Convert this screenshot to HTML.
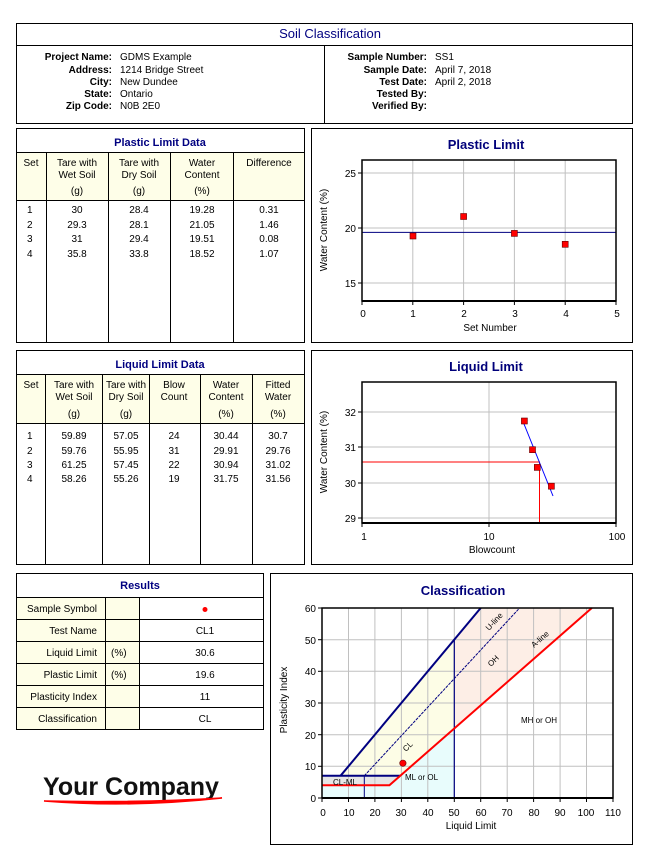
<!DOCTYPE html>
<html><head><meta charset="utf-8"><style>
html,body{margin:0;padding:0;background:#fff;}
svg{display:block;}
text{font-family:"Liberation Sans","DejaVu Sans",sans-serif;font-size:10px;fill:#000;}
.b{font-weight:bold;}
.t{font-weight:bold;fill:#000080;font-size:11px;}
.ct{font-weight:bold;fill:#00007a;font-size:13px;}
.ax{font-size:11px;}
.g{stroke:#c0c0c0;stroke-width:1;}
</style></head><body>
<svg width="659" height="865" viewBox="0 0 659 865" xmlns="http://www.w3.org/2000/svg">
<rect width="659" height="865" fill="#fff"/>
<!-- Header -->
<rect x="16.5" y="23.5" width="616" height="100" fill="none" stroke="#000"/>
<text x="330" y="38" text-anchor="middle" class="t" style="font-size:13px;font-weight:normal">Soil Classification</text>
<line x1="16" y1="45.5" x2="633" y2="45.5" stroke="#000"/>
<line x1="324.5" y1="45" x2="324.5" y2="124" stroke="#000"/>
<g text-anchor="end" class="b">
<text x="112" y="60">Project Name:</text><text x="112" y="73">Address:</text><text x="112" y="85">City:</text><text x="112" y="97">State:</text><text x="112" y="109">Zip Code:</text>
<text x="427" y="60">Sample Number:</text><text x="427" y="73">Sample Date:</text><text x="427" y="85">Test Date:</text><text x="427" y="97">Tested By:</text><text x="427" y="109">Verified By:</text>
</g>
<text x="120" y="60">GDMS Example</text><text x="120" y="73">1214 Bridge Street</text><text x="120" y="85">New Dundee</text><text x="120" y="97">Ontario</text><text x="120" y="109">N0B 2E0</text>
<text x="435" y="60">SS1</text><text x="435" y="73">April 7, 2018</text><text x="435" y="85">April 2, 2018</text>

<!-- Plastic Limit Data -->
<rect x="16.5" y="128.5" width="288" height="214" fill="none" stroke="#000"/>
<rect x="17" y="153" width="287" height="47" fill="#fefee8"/>
<text x="160" y="146" text-anchor="middle" class="t">Plastic Limit Data</text>
<line x1="16" y1="152.5" x2="305" y2="152.5" stroke="#000"/>
<line x1="16" y1="200.5" x2="305" y2="200.5" stroke="#000"/>
<g stroke="#000"><line x1="46.5" y1="152" x2="46.5" y2="343"/><line x1="108.5" y1="152" x2="108.5" y2="343"/><line x1="170.5" y1="152" x2="170.5" y2="343"/><line x1="233.5" y1="152" x2="233.5" y2="343"/></g>
<g text-anchor="middle">
<text x="31" y="166">Set</text>
<text x="77" y="166">Tare with</text><text x="77" y="178">Wet Soil</text><text x="77" y="194">(g)</text>
<text x="139" y="166">Tare with</text><text x="139" y="178">Dry Soil</text><text x="139" y="194">(g)</text>
<text x="202" y="166">Water</text><text x="202" y="178">Content</text><text x="202" y="194">(%)</text>
<text x="269" y="166">Difference</text>
<text x="77" y="213">30</text><text x="139" y="213">28.4</text><text x="202" y="213">19.28</text><text x="269" y="213">0.31</text>
<text x="77" y="228">29.3</text><text x="139" y="228">28.1</text><text x="202" y="228">21.05</text><text x="269" y="228">1.46</text>
<text x="77" y="242">31</text><text x="139" y="242">29.4</text><text x="202" y="242">19.51</text><text x="269" y="242">0.08</text>
<text x="77" y="257">35.8</text><text x="139" y="257">33.8</text><text x="202" y="257">18.52</text><text x="269" y="257">1.07</text>
</g>
<text x="27" y="213">1</text><text x="27" y="228">2</text><text x="27" y="242">3</text><text x="27" y="257">4</text>

<!-- Plastic Limit Chart -->
<rect x="311.5" y="128.5" width="321" height="214" fill="none" stroke="#000"/>
<text x="486" y="149" text-anchor="middle" class="ct">Plastic Limit</text>
<g class="g"><line x1="412.8" y1="160" x2="412.8" y2="301"/><line x1="463.6" y1="160" x2="463.6" y2="301"/><line x1="514.4" y1="160" x2="514.4" y2="301"/><line x1="565.2" y1="160" x2="565.2" y2="301"/>
<line x1="362" y1="173" x2="616" y2="173"/><line x1="362" y1="228" x2="616" y2="228"/><line x1="362" y1="283" x2="616" y2="283"/></g>
<line x1="362" y1="232.4" x2="616" y2="232.4" stroke="#000080"/>
<rect x="362" y="160" width="254" height="141" fill="none" stroke="#000" stroke-width="1.5"/>
<line x1="362" y1="301" x2="616" y2="301" stroke="#000" stroke-width="2"/>
<g stroke="#000"><line x1="358" y1="173" x2="362" y2="173"/><line x1="358" y1="228" x2="362" y2="228"/><line x1="358" y1="283" x2="362" y2="283"/>
<line x1="362" y1="301" x2="362" y2="305"/><line x1="412.8" y1="301" x2="412.8" y2="305"/><line x1="463.6" y1="301" x2="463.6" y2="305"/><line x1="514.4" y1="301" x2="514.4" y2="305"/><line x1="565.2" y1="301" x2="565.2" y2="305"/><line x1="616" y1="301" x2="616" y2="305"/></g>
<g fill="#f00" stroke="#600" stroke-width="0.6"><rect x="410" y="233" width="6" height="6"/><rect x="460.6" y="213.5" width="6" height="6"/><rect x="511.4" y="230.4" width="6" height="6"/><rect x="562.2" y="241.3" width="6" height="6"/></g>
<g class="ax" text-anchor="end"><text x="356" y="177">25</text><text x="356" y="232">20</text><text x="356" y="287">15</text></g>
<g class="ax" text-anchor="middle"><text x="363" y="317">0</text><text x="413" y="317">1</text><text x="464" y="317">2</text><text x="515" y="317">3</text><text x="566" y="317">4</text><text x="617" y="317">5</text>
<text x="490" y="331">Set Number</text>
<text transform="translate(327,230) rotate(-90)">Water Content (%)</text></g>

<!-- Liquid Limit Data -->
<rect x="16.5" y="350.5" width="288" height="214" fill="none" stroke="#000"/>
<rect x="17" y="375" width="287" height="48" fill="#fefee8"/>
<text x="160" y="368" text-anchor="middle" class="t">Liquid Limit Data</text>
<line x1="16" y1="374.5" x2="305" y2="374.5" stroke="#000"/>
<line x1="16" y1="423.5" x2="305" y2="423.5" stroke="#000"/>
<g stroke="#000"><line x1="45.5" y1="374" x2="45.5" y2="565"/><line x1="102.5" y1="374" x2="102.5" y2="565"/><line x1="149.5" y1="374" x2="149.5" y2="565"/><line x1="200.5" y1="374" x2="200.5" y2="565"/><line x1="252.5" y1="374" x2="252.5" y2="565"/></g>
<g text-anchor="middle">
<text x="31" y="388">Set</text>
<text x="74" y="388">Tare with</text><text x="74" y="400">Wet Soil</text><text x="74" y="417">(g)</text>
<text x="126" y="388">Tare with</text><text x="126" y="400">Dry Soil</text><text x="126" y="417">(g)</text>
<text x="174" y="388">Blow</text><text x="174" y="400">Count</text>
<text x="226" y="388">Water</text><text x="226" y="400">Content</text><text x="226" y="417">(%)</text>
<text x="278" y="388">Fitted</text><text x="278" y="400">Water</text><text x="278" y="417">(%)</text>
<text x="74" y="439">59.89</text><text x="126" y="439">57.05</text><text x="174" y="439">24</text><text x="226" y="439">30.44</text><text x="278" y="439">30.7</text>
<text x="74" y="454">59.76</text><text x="126" y="454">55.95</text><text x="174" y="454">31</text><text x="226" y="454">29.91</text><text x="278" y="454">29.76</text>
<text x="74" y="468">61.25</text><text x="126" y="468">57.45</text><text x="174" y="468">22</text><text x="226" y="468">30.94</text><text x="278" y="468">31.02</text>
<text x="74" y="482">58.26</text><text x="126" y="482">55.26</text><text x="174" y="482">19</text><text x="226" y="482">31.75</text><text x="278" y="482">31.56</text>
</g>
<text x="27" y="439">1</text><text x="27" y="454">2</text><text x="27" y="468">3</text><text x="27" y="482">4</text>

<!-- Liquid Limit chart -->
<rect x="311.5" y="350.5" width="321" height="214" fill="none" stroke="#000"/>
<text x="486" y="371" text-anchor="middle" class="ct">Liquid Limit</text>
<g class="g"><line x1="489" y1="382" x2="489" y2="523"/>
<line x1="362" y1="412" x2="616" y2="412"/><line x1="362" y1="447" x2="616" y2="447"/><line x1="362" y1="483" x2="616" y2="483"/><line x1="362" y1="518" x2="616" y2="518"/></g>
<polyline points="362,462 539.5,462 539.5,523" fill="none" stroke="#f00"/>
<line x1="522" y1="419" x2="553" y2="496" stroke="#0000ff"/>
<rect x="362" y="382" width="254" height="141" fill="none" stroke="#000" stroke-width="1.5"/>
<line x1="362" y1="523" x2="616" y2="523" stroke="#000" stroke-width="2"/>
<g stroke="#000"><line x1="358" y1="412" x2="362" y2="412"/><line x1="358" y1="447" x2="362" y2="447"/><line x1="358" y1="483" x2="362" y2="483"/><line x1="358" y1="518" x2="362" y2="518"/>
<line x1="362" y1="523" x2="362" y2="527"/><line x1="489" y1="523" x2="489" y2="527"/><line x1="616" y1="523" x2="616" y2="527"/></g>
<g fill="#f00" stroke="#600" stroke-width="0.6"><rect x="521.4" y="418" width="6" height="6"/><rect x="529.5" y="446.7" width="6" height="6"/><rect x="534.3" y="464.4" width="6" height="6"/><rect x="548.4" y="483.2" width="6" height="6"/></g>
<g class="ax" text-anchor="end"><text x="356" y="416">32</text><text x="356" y="451">31</text><text x="356" y="487">30</text><text x="356" y="522">29</text></g>
<g class="ax" text-anchor="middle"><text x="364" y="540">1</text><text x="489" y="540">10</text><text x="617" y="540">100</text>
<text x="492" y="553">Blowcount</text>
<text transform="translate(327,452) rotate(-90)">Water Content (%)</text></g>

<!-- Results -->
<rect x="16.5" y="573.5" width="247" height="156" fill="none" stroke="#000"/>
<rect x="17" y="598" width="122" height="131" fill="#fefee8"/>
<text x="140" y="589" text-anchor="middle" class="t">Results</text>
<g stroke="#000"><line x1="16" y1="597.5" x2="264" y2="597.5"/><line x1="16" y1="619.5" x2="264" y2="619.5"/><line x1="16" y1="641.5" x2="264" y2="641.5"/><line x1="16" y1="663.5" x2="264" y2="663.5"/><line x1="16" y1="685.5" x2="264" y2="685.5"/><line x1="16" y1="707.5" x2="264" y2="707.5"/>
<line x1="105.5" y1="597" x2="105.5" y2="730"/><line x1="139.5" y1="597" x2="139.5" y2="730"/></g>
<g text-anchor="end"><text x="97" y="612">Sample Symbol</text><text x="97" y="634">Test Name</text><text x="97" y="656">Liquid Limit</text><text x="97" y="678">Plastic Limit</text><text x="97" y="700">Plasticity Index</text><text x="97" y="722">Classification</text></g>
<text x="111" y="656">(%)</text><text x="111" y="678">(%)</text>
<circle cx="205" cy="609.5" r="2.5" fill="#f00"/>
<g text-anchor="middle"><text x="205" y="634">CL1</text><text x="205" y="656">30.6</text><text x="205" y="678">19.6</text><text x="205" y="700">11</text><text x="205" y="722">CL</text></g>

<!-- Logo -->
<text x="43" y="795" style="font-size:25px;font-weight:bold;fill:#111">Your Company</text>
<path d="M44,801 Q130,808 222,798 Q140,803 44,801 Z" fill="#f00" stroke="#f00" stroke-width="1.5"/>

<!-- Classification -->
<rect x="270.5" y="573.5" width="362" height="271" fill="none" stroke="#000"/>
<text x="463" y="595" text-anchor="middle" class="ct">Classification</text>
<polygon points="322,798 454.3,798 454.3,728.6 389.4,785.3 322,785.3" fill="#e8fcfc"/>
<polygon points="322,785.3 389.4,785.3 400.3,775.8 322,775.8" fill="#e6e6e6"/>
<polygon points="340.5,775.8 454.3,639.7 454.3,728.6 400.3,775.8" fill="#fdfde6"/>
<polygon points="454.3,639.7 480.7,608 591.8,608 454.3,728.6" fill="#fdeee6"/>
<g class="g">
<line x1="348.5" y1="608" x2="348.5" y2="798"/><line x1="374.9" y1="608" x2="374.9" y2="798"/><line x1="401.4" y1="608" x2="401.4" y2="798"/><line x1="427.8" y1="608" x2="427.8" y2="798"/><line x1="454.3" y1="608" x2="454.3" y2="798"/><line x1="480.7" y1="608" x2="480.7" y2="798"/><line x1="507.2" y1="608" x2="507.2" y2="798"/><line x1="533.6" y1="608" x2="533.6" y2="798"/><line x1="560.1" y1="608" x2="560.1" y2="798"/><line x1="586.5" y1="608" x2="586.5" y2="798"/>
<line x1="322" y1="766.3" x2="613" y2="766.3"/><line x1="322" y1="734.7" x2="613" y2="734.7"/><line x1="322" y1="703" x2="613" y2="703"/><line x1="322" y1="671.3" x2="613" y2="671.3"/><line x1="322" y1="639.7" x2="613" y2="639.7"/>
</g>
<line x1="340.5" y1="775.8" x2="480.7" y2="608" stroke="#000080" stroke-width="2"/>
<line x1="364.3" y1="775.8" x2="519.6" y2="608" stroke="#000080" stroke-width="1" stroke-dasharray="3,1"/>
<line x1="454.3" y1="639.7" x2="454.3" y2="798" stroke="#000080" stroke-width="1.2"/>
<line x1="364.3" y1="775.8" x2="364.3" y2="798" stroke="#000080" stroke-width="1"/>
<line x1="322" y1="775.8" x2="400.3" y2="775.8" stroke="#000080" stroke-width="2"/>
<polyline points="322,785.3 389.4,785.3 591.8,608" fill="none" stroke="#f00" stroke-width="2"/>
<circle cx="402.9" cy="763.2" r="3.2" fill="#f00" stroke="#600" stroke-width="0.6"/>
<rect x="322" y="608" width="291" height="190" fill="none" stroke="#000" stroke-width="1.5"/>
<line x1="322" y1="798" x2="613" y2="798" stroke="#000" stroke-width="2"/>
<g stroke="#000">
<line x1="318" y1="798" x2="322" y2="798"/><line x1="318" y1="766.3" x2="322" y2="766.3"/><line x1="318" y1="734.7" x2="322" y2="734.7"/><line x1="318" y1="703" x2="322" y2="703"/><line x1="318" y1="671.3" x2="322" y2="671.3"/><line x1="318" y1="639.7" x2="322" y2="639.7"/><line x1="318" y1="608" x2="322" y2="608"/>
<line x1="322" y1="798" x2="322" y2="802"/><line x1="348.5" y1="798" x2="348.5" y2="802"/><line x1="374.9" y1="798" x2="374.9" y2="802"/><line x1="401.4" y1="798" x2="401.4" y2="802"/><line x1="427.8" y1="798" x2="427.8" y2="802"/><line x1="454.3" y1="798" x2="454.3" y2="802"/><line x1="480.7" y1="798" x2="480.7" y2="802"/><line x1="507.2" y1="798" x2="507.2" y2="802"/><line x1="533.6" y1="798" x2="533.6" y2="802"/><line x1="560.1" y1="798" x2="560.1" y2="802"/><line x1="586.5" y1="798" x2="586.5" y2="802"/><line x1="613" y1="798" x2="613" y2="802"/>
</g>
<g class="ax" text-anchor="end"><text x="316" y="802">0</text><text x="316" y="770">10</text><text x="316" y="739">20</text><text x="316" y="707">30</text><text x="316" y="675">40</text><text x="316" y="644">50</text><text x="316" y="612">60</text></g>
<g class="ax" text-anchor="middle"><text x="323" y="816">0</text><text x="349" y="816">10</text><text x="375" y="816">20</text><text x="401" y="816">30</text><text x="428" y="816">40</text><text x="454" y="816">50</text><text x="481" y="816">60</text><text x="507" y="816">70</text><text x="534" y="816">80</text><text x="560" y="816">90</text><text x="586" y="816">100</text><text x="613" y="816">110</text>
<text x="471" y="829">Liquid Limit</text>
<text transform="translate(287,700) rotate(-90)">Plasticity Index</text></g>
<g style="font-size:8px">
<text x="333" y="785" style="font-size:8px">CL-ML</text>
<text x="405" y="780" style="font-size:8px">ML or OL</text>
<text x="521" y="723" style="font-size:8px">MH or OH</text>
<text transform="translate(406,752) rotate(-45)" style="font-size:8px">CL</text>
<text transform="translate(491,667) rotate(-45)" style="font-size:8px">OH</text>
<text transform="translate(489,631) rotate(-47)" style="font-size:8px">U-line</text>
<text transform="translate(534,648) rotate(-41)" style="font-size:8px">A-line</text>
</g>
</svg>
</body></html>
